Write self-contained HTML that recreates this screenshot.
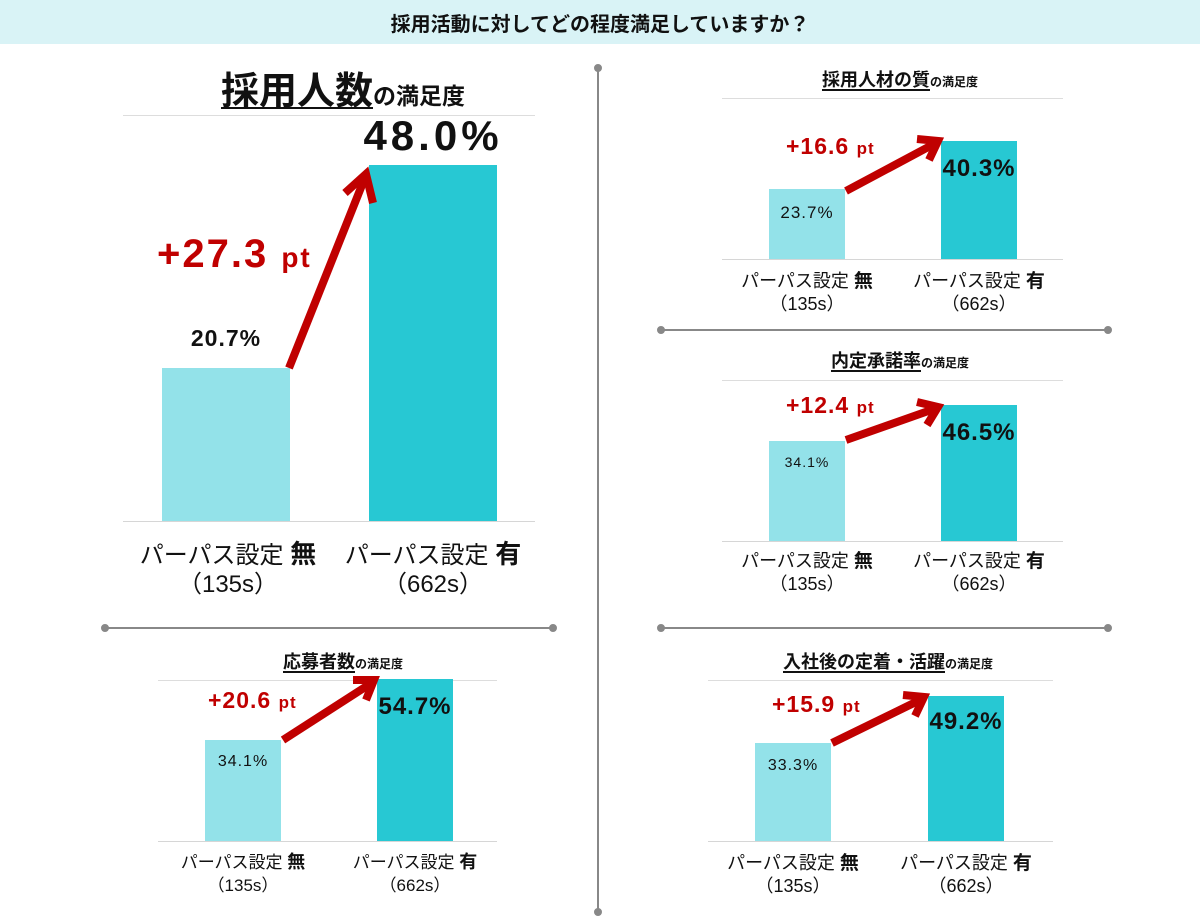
<!DOCTYPE html><html><head><meta charset="utf-8"><style>
*{margin:0;padding:0;box-sizing:border-box}
body{width:1200px;height:918px;background:#fff;position:relative;overflow:hidden;font-family:"Liberation Sans","Noto Sans CJK JP",sans-serif;color:#111}
.a{position:absolute;white-space:nowrap}
.c{transform:translateX(-50%);text-align:center}
.b1{position:absolute;background:#93e2e9}
.b2{position:absolute;background:#27c8d3}
.g{position:absolute;height:1px;background:#ddd}
.bl{position:absolute;height:1px;background:#d6d6d6}
.r{color:#c00000;font-weight:bold;letter-spacing:1px}
.n{letter-spacing:1px}
u{text-decoration-thickness:2px;text-underline-offset:3px}
</style></head><body>
<div class="a" style="left:0;top:0;width:1200px;height:44px;background:#d9f3f6"></div>
<div class="a c" style="left:600px;top:8px;font-size:20px;font-weight:bold">採用活動に対してどの程度満足していますか？</div>

<!-- main -->
<div class="a c" style="left:343px;top:60px;font-weight:bold"><u style="font-size:38px">採用人数</u><span style="font-size:23px">の満足度</span></div>
<div class="g" style="left:123px;top:115px;width:412px"></div>
<div class="b1" style="left:162px;top:368px;width:128px;height:153px"></div>
<div class="b2" style="left:369px;top:165px;width:128px;height:356px"></div>
<div class="bl" style="left:123px;top:521px;width:412px"></div>
<div class="a c n" style="left:226px;top:325px;font-size:23px;font-weight:bold">20.7%</div>
<div class="a c" style="left:433px;top:112px;font-size:42px;font-weight:bold;letter-spacing:4px">48.0%</div>
<div class="a r" style="left:157px;top:232px;font-size:40px;letter-spacing:2px">+27.3 <span style="font-size:28px">pt</span></div>
<div class="a c" style="left:228px;top:540px;font-size:24px;line-height:29px">パーパス設定 <b style="font-size:26px">無</b><br>（135s）</div>
<div class="a c" style="left:433px;top:540px;font-size:24px;line-height:29px">パーパス設定 <b style="font-size:26px">有</b><br>（662s）</div>

<!-- left2 -->
<div class="a c" style="left:343px;top:648px;font-weight:bold"><u style="font-size:18px">応募者数</u><span style="font-size:12px">の満足度</span></div>
<div class="g" style="left:158px;top:680px;width:339px"></div>
<div class="b1" style="left:205px;top:740px;width:76px;height:101px"></div>
<div class="b2" style="left:377px;top:679px;width:76px;height:162px"></div>
<div class="bl" style="left:158px;top:841px;width:339px"></div>
<div class="a c n" style="left:243px;top:753px;font-size:16px">34.1%</div>
<div class="a c n" style="left:415px;top:693px;font-size:24px;font-weight:bold">54.7%</div>
<div class="a r" style="left:208px;top:687px;font-size:23px">+20.6 <span style="font-size:17px">pt</span></div>
<div class="a c" style="left:243px;top:851px;font-size:17px;line-height:23px">パーパス設定 <b style="font-size:18px">無</b><br>（135s）</div>
<div class="a c" style="left:415px;top:851px;font-size:17px;line-height:23px">パーパス設定 <b style="font-size:18px">有</b><br>（662s）</div>

<!-- right1 -->
<div class="a c" style="left:900px;top:66px;font-weight:bold"><u style="font-size:18px">採用人材の質</u><span style="font-size:12px">の満足度</span></div>
<div class="g" style="left:722px;top:98px;width:341px"></div>
<div class="b1" style="left:769px;top:189px;width:76px;height:70px"></div>
<div class="b2" style="left:941px;top:141px;width:76px;height:118px"></div>
<div class="bl" style="left:722px;top:259px;width:341px"></div>
<div class="a c n" style="left:807px;top:203px;font-size:17px">23.7%</div>
<div class="a c n" style="left:979px;top:155px;font-size:24px;font-weight:bold">40.3%</div>
<div class="a r" style="left:786px;top:133px;font-size:23px">+16.6 <span style="font-size:17px">pt</span></div>
<div class="a c" style="left:807px;top:270px;font-size:18px;line-height:23px">パーパス設定 <b style="font-size:19px">無</b><br>（135s）</div>
<div class="a c" style="left:979px;top:270px;font-size:18px;line-height:23px">パーパス設定 <b style="font-size:19px">有</b><br>（662s）</div>

<!-- right2 -->
<div class="a c" style="left:900px;top:347px;font-weight:bold"><u style="font-size:18px">内定承諾率</u><span style="font-size:12px">の満足度</span></div>
<div class="g" style="left:722px;top:380px;width:341px"></div>
<div class="b1" style="left:769px;top:441px;width:76px;height:100px"></div>
<div class="b2" style="left:941px;top:405px;width:76px;height:136px"></div>
<div class="bl" style="left:722px;top:541px;width:341px"></div>
<div class="a c n" style="left:807px;top:454px;font-size:14px">34.1%</div>
<div class="a c n" style="left:979px;top:419px;font-size:24px;font-weight:bold">46.5%</div>
<div class="a r" style="left:786px;top:392px;font-size:23px">+12.4 <span style="font-size:17px">pt</span></div>
<div class="a c" style="left:807px;top:550px;font-size:18px;line-height:23px">パーパス設定 <b style="font-size:19px">無</b><br>（135s）</div>
<div class="a c" style="left:979px;top:550px;font-size:18px;line-height:23px">パーパス設定 <b style="font-size:19px">有</b><br>（662s）</div>

<!-- right3 -->
<div class="a c" style="left:888px;top:648px;font-weight:bold"><u style="font-size:18px">入社後の定着・活躍</u><span style="font-size:12px">の満足度</span></div>
<div class="g" style="left:708px;top:680px;width:345px"></div>
<div class="b1" style="left:755px;top:743px;width:76px;height:98px"></div>
<div class="b2" style="left:928px;top:696px;width:76px;height:145px"></div>
<div class="bl" style="left:708px;top:841px;width:345px"></div>
<div class="a c n" style="left:793px;top:757px;font-size:16px">33.3%</div>
<div class="a c n" style="left:966px;top:708px;font-size:24px;font-weight:bold">49.2%</div>
<div class="a r" style="left:772px;top:691px;font-size:23px">+15.9 <span style="font-size:17px">pt</span></div>
<div class="a c" style="left:793px;top:852px;font-size:18px;line-height:23px">パーパス設定 <b style="font-size:19px">無</b><br>（135s）</div>
<div class="a c" style="left:966px;top:852px;font-size:18px;line-height:23px">パーパス設定 <b style="font-size:19px">有</b><br>（662s）</div>

<svg class="a" style="left:0;top:0" width="1200" height="918">
<g stroke="#888" stroke-width="2" fill="#888">
<line x1="598" y1="68" x2="598" y2="912"/><circle cx="598" cy="68" r="3"/><circle cx="598" cy="912" r="3"/>
<line x1="105" y1="628" x2="553" y2="628"/><circle cx="105" cy="628" r="3"/><circle cx="553" cy="628" r="3"/>
<line x1="661" y1="330" x2="1108" y2="330"/><circle cx="661" cy="330" r="3"/><circle cx="1108" cy="330" r="3"/>
<line x1="661" y1="628" x2="1108" y2="628"/><circle cx="661" cy="628" r="3"/><circle cx="1108" cy="628" r="3"/>
</g>
<g stroke="#c00000" stroke-width="8" fill="none" stroke-linecap="butt">
<line x1="289" y1="368" x2="364" y2="180"/><polyline points="345,193 366,174 373,203"/>
<line x1="283" y1="740" x2="370" y2="684"/><polyline points="353,680 374,680 366,700"/>
<line x1="846" y1="191" x2="934" y2="144"/><polyline points="917,139 938,141 929,160"/>
<line x1="846" y1="440" x2="934" y2="409"/><polyline points="917,402 938,407 927,425"/>
<line x1="832" y1="743" x2="920" y2="700"/><polyline points="903,695 924,697 915,716"/>
</g>
</svg>
</body></html>
